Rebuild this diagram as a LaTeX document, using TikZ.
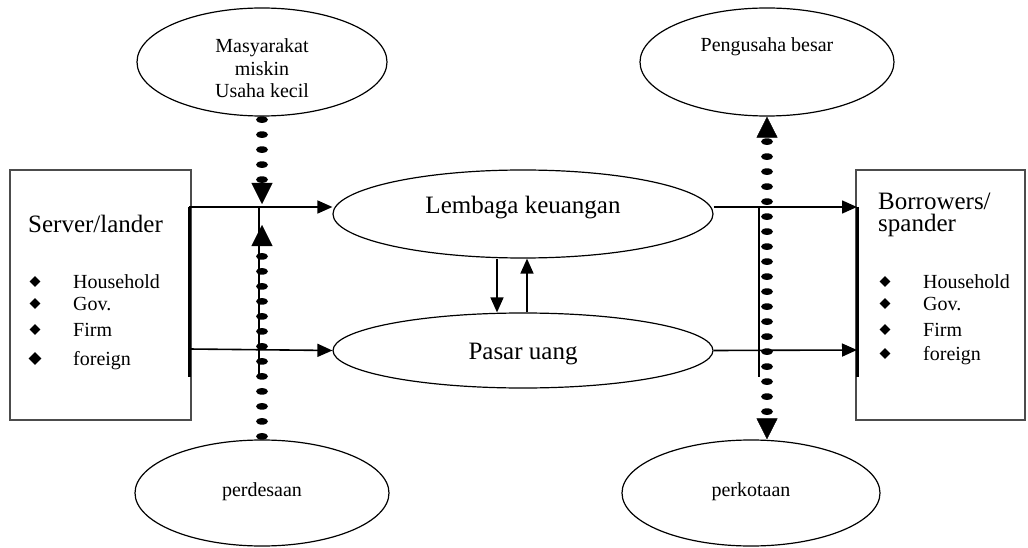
\documentclass[tikz,border=0pt]{standalone}
\usepackage{fontspec}
\setmainfont{Liberation Serif}
\usetikzlibrary{arrows.meta,shapes.geometric,decorations.markings}
\tikzset{
    oval/.style = {ellipse, draw=black, line width=1.2pt, inner sep=0pt},
    side_box/.style = {rectangle, draw=black!70, line width=1.3pt, minimum height=250pt},
    big_text/.style = {inner sep=0pt, font=\fontsize{25}{22}\selectfont},
    small_text/.style = {inner sep=0pt, font=\fontsize{20}{22.5}\selectfont},
    bullet/.style = {diamond, fill=black, inner sep=0pt, minimum size=11pt},
    flow/.style = {-{Triangle[width=13pt,length=15pt]}, line width=1.6pt},
    bar/.style = {line width=3pt},
    cross_line/.style = {line width=1.8pt},
    dot_end/.style = {decoration={markings,
        mark=between positions 3pt and -22pt step 15pt with {\fill (0,0) ellipse (3.3pt and 6pt);},
        mark=at position 1 with {\arrow{Triangle[width=21pt,length=21pt]}}}, decorate},
    dot_both/.style = {decoration={markings,
        mark=between positions 25pt and -24pt step 15pt with {\fill (0,0) ellipse (3.3pt and 6pt);},
        mark=at position 0 with {\arrowreversed{Triangle[width=21pt,length=21pt]}},
        mark=at position 1 with {\arrow{Triangle[width=21pt,length=21pt]}}}, decorate}
}
\begin{document}
\begin{tikzpicture}[x=1pt, y=-1pt]
    \useasboundingbox (0,0) rectangle (1028,548);

    % side boxes
    \node[side_box, minimum width=181pt] (lender) at (100.5,295) {};
    \node[side_box, minimum width=169pt] (borrower) at (940.5,295) {};
    \node[big_text, anchor=base west] (lender_title) at (28,233) {Server/lander};
    \node[big_text, anchor=north west, align=left] (borrower_title) at (878,193) {Borrowers/\\spander};
    \foreach \name/\y/\s [count=\i] in {Household/288/11, Gov./310/11, Firm/336/11, foreign/365/13} {
        \node[bullet, minimum size=\s pt] (lb\i) at (35,\y-6.5) {};
        \node[small_text, anchor=base west] (lt\i) at (73,\y) {\name};
    }
    \foreach \name/\y [count=\i] in {Household/288, Gov./310, Firm/336, foreign/360} {
        \node[bullet] (rb\i) at (885,\y-6.5) {};
        \node[small_text, anchor=base west] (rt\i) at (923,\y) {\name};
    }

    % ovals
    \node[oval, minimum width=380pt, minimum height=88pt] (lembaga) at (523,214) {};
    \node[oval, minimum width=380pt, minimum height=75pt] (pasar) at (523,350.5) {};
    \node[oval, minimum width=250pt, minimum height=108pt] (masyarakat) at (262,62) {};
    \node[oval, minimum width=254pt, minimum height=108pt] (pengusaha) at (767,62) {};
    \node[oval, minimum width=254pt, minimum height=106pt] (perdesaan) at (262,493) {};
    \node[oval, minimum width=258pt, minimum height=106pt] (perkotaan) at (751,493) {};
    \node[big_text, anchor=base] (lembaga_text) at (523,214) {Lembaga keuangan};
    \node[big_text, anchor=base] (pasar_text) at (523,359) {Pasar uang};
    \node[small_text, anchor=north, align=center] (masyarakat_text) at (262,38.5) {Masyarakat\\miskin\\Usaha kecil};
    \node[small_text, anchor=base] (pengusaha_text) at (767,52) {Pengusaha besar};
    \node[small_text, anchor=base] (perdesaan_text) at (262,496) {perdesaan};
    \node[small_text, anchor=base] (perkotaan_text) at (751,496) {perkotaan};

    % bars and flows
    \coordinate (lbar_top) at (189,207);
    \coordinate (lbar_mid) at (189,349);
    \coordinate (lbar_bot) at (189,377);
    \coordinate (rbar_top) at (857,207);
    \coordinate (rbar_mid) at (857,350);
    \coordinate (rbar_bot) at (857,377);
    \draw[bar] (lbar_top) -- (lbar_bot);
    \draw[bar] (rbar_top) -- (rbar_bot);
    \draw[flow] (lbar_top) -- (lbar_top -| lembaga.west);
    \draw[flow] (lbar_mid) -- (pasar.west);
    \draw[flow] (lembaga.east |- rbar_top) -- (rbar_top);
    \draw[flow] (pasar.east) -- (rbar_mid);
    \draw[flow] ([xshift=-26pt]lembaga.south) -- ([xshift=-26pt]pasar.north);
    \draw[flow] ([xshift=4pt]pasar.north) -- ([xshift=4pt]lembaga.south);

    % dotted links
    \coordinate (lcross_top) at (259,207);
    \coordinate (lcross_bot) at (259,377);
    \coordinate (rcross_top) at (759,207);
    \coordinate (rcross_bot) at (759,377);
    \draw[cross_line] (lcross_top) -- (lcross_bot);
    \draw[cross_line] (rcross_top) -- (rcross_bot);
    \coordinate (down_tip) at (262,204);
    \coordinate (up_tip) at (262,225);
    \path[dot_end] (masyarakat.south) -- (down_tip);
    \path[dot_end] (perdesaan.north) -- (up_tip);
    \path[dot_both] (pengusaha.south) -- (pengusaha.south |- perkotaan.north);
\end{tikzpicture}
\end{document}
